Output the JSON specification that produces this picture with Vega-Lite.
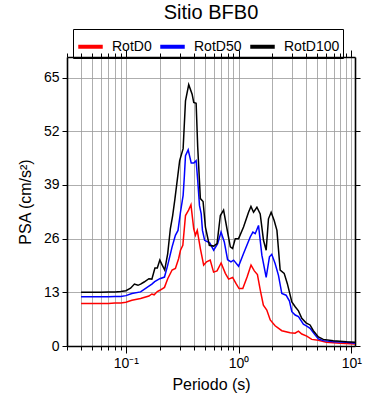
{
  "$schema": "https://vega.github.io/schema/vega-lite/v6.json",
  "width": 288,
  "height": 289,
  "autosize": "none",
  "padding": {"left": 67, "top": 57, "right": 35, "bottom": 54},
  "background": "white",
  "config": {
    "font": "Liberation Sans",
    "view": {"stroke": null},
    "axis": {"labelFont": "Liberation Sans", "titleFont": "Liberation Sans", "labelColor": "black", "titleColor": "black", "titleFontWeight": "normal", "domainColor": "black", "domainWidth": 1.6, "tickColor": "black", "tickWidth": 1, "gridColor": "#999999", "gridWidth": 0.8, "gridOpacity": 1}
  },
  "title": {"text": "Sitio BFB0", "fontSize": 20, "fontWeight": "normal", "font": "Liberation Sans", "anchor": "middle", "offset": 6, "color": "black"},
  "datasets": {
    "psa": [
      {"s": "RotD0", "T": 0.04, "v": 10.3}, {"s": "RotD0", "T": 0.05, "v": 10.3}, {"s": "RotD0", "T": 0.06, "v": 10.3}, {"s": "RotD0", "T": 0.07, "v": 10.3}, {"s": "RotD0", "T": 0.08, "v": 10.4}, {"s": "RotD0", "T": 0.09, "v": 10.4}, {"s": "RotD0", "T": 0.1, "v": 10.6}, {"s": "RotD0", "T": 0.113, "v": 11.1}, {"s": "RotD0", "T": 0.135, "v": 11.5}, {"s": "RotD0", "T": 0.16, "v": 12.1}, {"s": "RotD0", "T": 0.17, "v": 12.6}, {"s": "RotD0", "T": 0.178, "v": 12.4}, {"s": "RotD0", "T": 0.19, "v": 13.2}, {"s": "RotD0", "T": 0.2, "v": 13.5}, {"s": "RotD0", "T": 0.22, "v": 14.2}, {"s": "RotD0", "T": 0.235, "v": 16.3}, {"s": "RotD0", "T": 0.257, "v": 18.4}, {"s": "RotD0", "T": 0.275, "v": 18.8}, {"s": "RotD0", "T": 0.294, "v": 21.2}, {"s": "RotD0", "T": 0.305, "v": 23.2}, {"s": "RotD0", "T": 0.32, "v": 24.4}, {"s": "RotD0", "T": 0.338, "v": 31.6}, {"s": "RotD0", "T": 0.36, "v": 32.9}, {"s": "RotD0", "T": 0.378, "v": 34.2}, {"s": "RotD0", "T": 0.4, "v": 28.4}, {"s": "RotD0", "T": 0.414, "v": 26.8}, {"s": "RotD0", "T": 0.43, "v": 28.0}, {"s": "RotD0", "T": 0.458, "v": 23.6}, {"s": "RotD0", "T": 0.49, "v": 19.6}, {"s": "RotD0", "T": 0.52, "v": 20.4}, {"s": "RotD0", "T": 0.56, "v": 20.8}, {"s": "RotD0", "T": 0.6, "v": 17.9}, {"s": "RotD0", "T": 0.644, "v": 18.2}, {"s": "RotD0", "T": 0.7, "v": 20.1}, {"s": "RotD0", "T": 0.763, "v": 17.6}, {"s": "RotD0", "T": 0.816, "v": 16.2}, {"s": "RotD0", "T": 0.885, "v": 16.6}, {"s": "RotD0", "T": 0.95, "v": 15.1}, {"s": "RotD0", "T": 1.01, "v": 13.9}, {"s": "RotD0", "T": 1.09, "v": 13.9}, {"s": "RotD0", "T": 1.19, "v": 16.7}, {"s": "RotD0", "T": 1.29, "v": 19.6}, {"s": "RotD0", "T": 1.38, "v": 18.2}, {"s": "RotD0", "T": 1.47, "v": 17.3}, {"s": "RotD0", "T": 1.56, "v": 13.5}, {"s": "RotD0", "T": 1.66, "v": 9.9}, {"s": "RotD0", "T": 1.78, "v": 8.7}, {"s": "RotD0", "T": 1.91, "v": 6.3}, {"s": "RotD0", "T": 2.11, "v": 4.9}, {"s": "RotD0", "T": 2.42, "v": 3.7}, {"s": "RotD0", "T": 2.87, "v": 3.2}, {"s": "RotD0", "T": 3.17, "v": 3.1}, {"s": "RotD0", "T": 3.4, "v": 3.6}, {"s": "RotD0", "T": 3.64, "v": 2.9}, {"s": "RotD0", "T": 4.03, "v": 2.4}, {"s": "RotD0", "T": 4.46, "v": 1.6}, {"s": "RotD0", "T": 5.1, "v": 1.4}, {"s": "RotD0", "T": 6.0, "v": 0.9}, {"s": "RotD0", "T": 8.0, "v": 0.65}, {"s": "RotD0", "T": 10.8, "v": 0.5},
      {"s": "RotD50", "T": 0.04, "v": 11.9}, {"s": "RotD50", "T": 0.05, "v": 11.9}, {"s": "RotD50", "T": 0.06, "v": 11.9}, {"s": "RotD50", "T": 0.07, "v": 11.9}, {"s": "RotD50", "T": 0.08, "v": 12.0}, {"s": "RotD50", "T": 0.09, "v": 12.0}, {"s": "RotD50", "T": 0.1, "v": 12.2}, {"s": "RotD50", "T": 0.113, "v": 12.7}, {"s": "RotD50", "T": 0.135, "v": 13.1}, {"s": "RotD50", "T": 0.16, "v": 14.5}, {"s": "RotD50", "T": 0.17, "v": 15.0}, {"s": "RotD50", "T": 0.18, "v": 15.6}, {"s": "RotD50", "T": 0.2, "v": 16.3}, {"s": "RotD50", "T": 0.22, "v": 16.7}, {"s": "RotD50", "T": 0.235, "v": 19.6}, {"s": "RotD50", "T": 0.257, "v": 24.0}, {"s": "RotD50", "T": 0.275, "v": 26.8}, {"s": "RotD50", "T": 0.29, "v": 28.0}, {"s": "RotD50", "T": 0.305, "v": 32.4}, {"s": "RotD50", "T": 0.322, "v": 36.5}, {"s": "RotD50", "T": 0.33, "v": 41.0}, {"s": "RotD50", "T": 0.338, "v": 46.1}, {"s": "RotD50", "T": 0.357, "v": 47.5}, {"s": "RotD50", "T": 0.38, "v": 44.3}, {"s": "RotD50", "T": 0.4, "v": 44.3}, {"s": "RotD50", "T": 0.42, "v": 44.9}, {"s": "RotD50", "T": 0.434, "v": 40.1}, {"s": "RotD50", "T": 0.45, "v": 34.0}, {"s": "RotD50", "T": 0.466, "v": 32.0}, {"s": "RotD50", "T": 0.478, "v": 28.0}, {"s": "RotD50", "T": 0.5, "v": 25.6}, {"s": "RotD50", "T": 0.554, "v": 25.0}, {"s": "RotD50", "T": 0.601, "v": 23.2}, {"s": "RotD50", "T": 0.652, "v": 24.8}, {"s": "RotD50", "T": 0.699, "v": 27.6}, {"s": "RotD50", "T": 0.747, "v": 25.2}, {"s": "RotD50", "T": 0.799, "v": 20.9}, {"s": "RotD50", "T": 0.856, "v": 20.4}, {"s": "RotD50", "T": 0.903, "v": 20.8}, {"s": "RotD50", "T": 1.0, "v": 19.3}, {"s": "RotD50", "T": 1.107, "v": 22.4}, {"s": "RotD50", "T": 1.269, "v": 26.4}, {"s": "RotD50", "T": 1.34, "v": 27.6}, {"s": "RotD50", "T": 1.405, "v": 27.2}, {"s": "RotD50", "T": 1.503, "v": 29.2}, {"s": "RotD50", "T": 1.61, "v": 22.0}, {"s": "RotD50", "T": 1.758, "v": 16.6}, {"s": "RotD50", "T": 1.88, "v": 21.6}, {"s": "RotD50", "T": 1.97, "v": 22.2}, {"s": "RotD50", "T": 2.11, "v": 20.0}, {"s": "RotD50", "T": 2.26, "v": 17.1}, {"s": "RotD50", "T": 2.42, "v": 12.7}, {"s": "RotD50", "T": 2.64, "v": 12.3}, {"s": "RotD50", "T": 2.83, "v": 10.9}, {"s": "RotD50", "T": 2.97, "v": 8.3}, {"s": "RotD50", "T": 3.18, "v": 7.5}, {"s": "RotD50", "T": 3.4, "v": 7.1}, {"s": "RotD50", "T": 3.76, "v": 5.3}, {"s": "RotD50", "T": 4.03, "v": 4.8}, {"s": "RotD50", "T": 4.31, "v": 4.3}, {"s": "RotD50", "T": 4.77, "v": 2.7}, {"s": "RotD50", "T": 5.11, "v": 1.7}, {"s": "RotD50", "T": 5.65, "v": 1.3}, {"s": "RotD50", "T": 6.93, "v": 1.0}, {"s": "RotD50", "T": 9.1, "v": 0.9}, {"s": "RotD50", "T": 10.8, "v": 0.65},
      {"s": "RotD100", "T": 0.04, "v": 13.0}, {"s": "RotD100", "T": 0.05, "v": 13.0}, {"s": "RotD100", "T": 0.06, "v": 13.0}, {"s": "RotD100", "T": 0.07, "v": 13.1}, {"s": "RotD100", "T": 0.08, "v": 13.1}, {"s": "RotD100", "T": 0.09, "v": 13.2}, {"s": "RotD100", "T": 0.1, "v": 13.4}, {"s": "RotD100", "T": 0.11, "v": 14.0}, {"s": "RotD100", "T": 0.119, "v": 15.0}, {"s": "RotD100", "T": 0.128, "v": 14.7}, {"s": "RotD100", "T": 0.135, "v": 15.0}, {"s": "RotD100", "T": 0.145, "v": 15.5}, {"s": "RotD100", "T": 0.16, "v": 16.3}, {"s": "RotD100", "T": 0.17, "v": 16.2}, {"s": "RotD100", "T": 0.181, "v": 18.9}, {"s": "RotD100", "T": 0.19, "v": 18.9}, {"s": "RotD100", "T": 0.2, "v": 20.8}, {"s": "RotD100", "T": 0.21, "v": 19.6}, {"s": "RotD100", "T": 0.221, "v": 18.4}, {"s": "RotD100", "T": 0.235, "v": 22.4}, {"s": "RotD100", "T": 0.248, "v": 28.4}, {"s": "RotD100", "T": 0.26, "v": 31.6}, {"s": "RotD100", "T": 0.272, "v": 35.5}, {"s": "RotD100", "T": 0.3, "v": 44.9}, {"s": "RotD100", "T": 0.322, "v": 47.8}, {"s": "RotD100", "T": 0.338, "v": 59.4}, {"s": "RotD100", "T": 0.361, "v": 63.3}, {"s": "RotD100", "T": 0.387, "v": 61.0}, {"s": "RotD100", "T": 0.4, "v": 59.0}, {"s": "RotD100", "T": 0.42, "v": 58.8}, {"s": "RotD100", "T": 0.434, "v": 48.1}, {"s": "RotD100", "T": 0.458, "v": 35.7}, {"s": "RotD100", "T": 0.484, "v": 35.0}, {"s": "RotD100", "T": 0.508, "v": 28.8}, {"s": "RotD100", "T": 0.55, "v": 24.4}, {"s": "RotD100", "T": 0.601, "v": 24.2}, {"s": "RotD100", "T": 0.644, "v": 24.8}, {"s": "RotD100", "T": 0.689, "v": 31.6}, {"s": "RotD100", "T": 0.736, "v": 32.9}, {"s": "RotD100", "T": 0.789, "v": 28.4}, {"s": "RotD100", "T": 0.845, "v": 24.0}, {"s": "RotD100", "T": 0.885, "v": 23.6}, {"s": "RotD100", "T": 0.935, "v": 26.0}, {"s": "RotD100", "T": 1.0, "v": 26.0}, {"s": "RotD100", "T": 1.107, "v": 28.8}, {"s": "RotD100", "T": 1.226, "v": 32.4}, {"s": "RotD100", "T": 1.288, "v": 33.8}, {"s": "RotD100", "T": 1.358, "v": 32.4}, {"s": "RotD100", "T": 1.455, "v": 33.6}, {"s": "RotD100", "T": 1.556, "v": 32.0}, {"s": "RotD100", "T": 1.664, "v": 25.6}, {"s": "RotD100", "T": 1.758, "v": 23.2}, {"s": "RotD100", "T": 1.842, "v": 30.8}, {"s": "RotD100", "T": 1.946, "v": 32.4}, {"s": "RotD100", "T": 2.07, "v": 30.4}, {"s": "RotD100", "T": 2.19, "v": 28.0}, {"s": "RotD100", "T": 2.34, "v": 18.4}, {"s": "RotD100", "T": 2.54, "v": 17.6}, {"s": "RotD100", "T": 2.71, "v": 15.1}, {"s": "RotD100", "T": 2.97, "v": 10.7}, {"s": "RotD100", "T": 3.18, "v": 9.5}, {"s": "RotD100", "T": 3.4, "v": 8.5}, {"s": "RotD100", "T": 3.64, "v": 6.7}, {"s": "RotD100", "T": 3.97, "v": 5.6}, {"s": "RotD100", "T": 4.31, "v": 5.1}, {"s": "RotD100", "T": 4.61, "v": 3.7}, {"s": "RotD100", "T": 5.11, "v": 2.2}, {"s": "RotD100", "T": 5.65, "v": 1.6}, {"s": "RotD100", "T": 6.93, "v": 1.3}, {"s": "RotD100", "T": 9.1, "v": 1.0}, {"s": "RotD100", "T": 10.8, "v": 0.9}
    ]
  },
  "data": {"name": "psa"},
  "layer": [
    {
      "mark": {"type": "line", "strokeWidth": 1.5, "clip": true},
      "encoding": {
        "x": {"field": "T", "type": "quantitative", "scale": {"type": "log", "domain": [0.03, 10.8], "nice": false},
          "axis": {"orient": "bottom", "title": "Periodo (s)", "titleFontSize": 16, "titlePadding": 6, "labelFontSize": 14, "labelPadding": 3,
            "values": [0.03, 0.04, 0.05, 0.06, 0.07, 0.08, 0.09, 0.1, 0.2, 0.3, 0.4, 0.5, 0.6, 0.7, 0.8, 0.9, 1, 2, 3, 4, 5, 6, 7, 8, 9, 10],
            "labelExpr": "datum.value == 0.1 ? '10⁻¹' : datum.value == 1 ? '10⁰' : datum.value == 10 ? '10¹' : ''",
            "tickSize": {"condition": {"test": "datum.value == 0.1 || datum.value == 1 || datum.value == 10", "value": 7}, "value": 4},
            "grid": true, "labelFlush": false}},
        "y": {"field": "v", "type": "quantitative", "scale": {"domain": [0, 70], "nice": false},
          "axis": {"orient": "left", "title": "PSA (cm/s²)", "titleFontSize": 16, "titlePadding": 10, "labelFontSize": 14, "labelPadding": 3, "tickSize": 5,
            "values": [0, 13, 26, 39, 52, 65], "grid": true}},
        "color": {"field": "s", "type": "nominal",
          "scale": {"domain": ["RotD0", "RotD50", "RotD100"], "range": ["#ff0000", "#0000ff", "#000000"]},
          "legend": {"orient": "none", "legendX": 6, "legendY": -28, "direction": "horizontal", "columns": 3, "title": null,
            "symbolType": "stroke", "symbolSize": 600, "symbolStrokeWidth": 4, "labelFontSize": 14, "labelFont": "Liberation Sans", "labelColor": "black",
            "labelOffset": 7, "columnPadding": 0, "strokeColor": "black", "padding": 3}}
      }
    },
    {
      "mark": {"type": "line", "opacity": 0},
      "encoding": {
        "x": {"field": "T", "type": "quantitative", "scale": {"type": "log", "domain": [0.03, 10.8], "nice": false},
          "axis": {"orient": "top", "title": null, "labels": false, "grid": false,
            "values": [0.03, 0.04, 0.05, 0.06, 0.07, 0.08, 0.09, 0.1, 0.2, 0.3, 0.4, 0.5, 0.6, 0.7, 0.8, 0.9, 1, 2, 3, 4, 5, 6, 7, 8, 9, 10],
            "tickSize": {"condition": {"test": "datum.value == 0.1 || datum.value == 1 || datum.value == 10", "value": 7}, "value": 4}}},
        "y": {"field": "v", "type": "quantitative", "scale": {"domain": [0, 70], "nice": false},
          "axis": {"orient": "right", "title": null, "labels": false, "grid": false, "tickSize": 5, "values": [0, 13, 26, 39, 52, 65]}},
        "detail": {"field": "s"}
      }
    }
  ],
  "resolve": {"axis": {"x": "independent", "y": "independent"}}
}
